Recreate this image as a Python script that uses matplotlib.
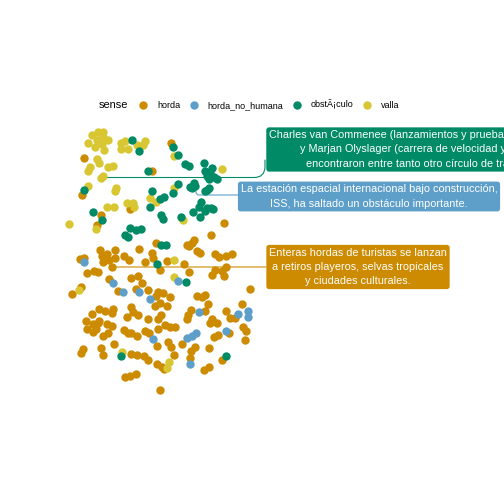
import matplotlib
matplotlib.use("Agg")
import matplotlib.pyplot as plt

plt.rcParams['font.family'] = ['Liberation Sans', 'DejaVu Sans']

# point positions (pixel units of the 504x504 picture)
horda_x = [84.3, 151.7, 81.7, 130, 171, 100.7, 97.3, 224, 210.7, 156, 186.7, 189.3, 191.7, 194.3,
           100, 115, 139.3, 107.3, 101.7, 103.3, 109.3, 115, 111.7, 80, 84.3, 124.3, 129, 152.3,
           153.3, 145, 196.7, 200, 215, 219, 225.7, 231.7, 167.3, 184.3, 160, 189.3, 226, 221.7,
           215, 212.3, 224.3, 86.7, 94.3, 97.7, 109, 131, 138.3, 142.3, 148.3, 136, 118.3, 81,
           72, 250, 158.3, 163.3, 156, 170, 196.7, 201.7, 205, 160, 166.7, 154.5, 207.7, 205,
           190.7, 188.3, 186.7, 161, 158, 165, 170, 175, 158, 212.3, 210, 216.7, 226, 230, 235,
           242.3, 229.3, 243.3, 245.7, 168.3, 171, 181.7, 214, 218, 245, 157, 209.3, 191, 195,
           174.3, 222.3, 190, 157, 162.3, 164.3, 204.3, 209, 99.3, 105, 111.7, 113.3, 92.3, 131,
           133.3, 137.7, 126.7, 148.3, 86, 93.3, 97.7, 99.3, 107.3, 112.3, 87.3, 93.3, 96, 124.3,
           128.3, 130.7, 108.3, 103.3, 145, 149.3, 137.3, 114.3, 101, 83.3, 81, 103.3, 131,
           137.3, 144, 148.3, 125, 130, 135.7, 160]
horda_y = [158.3, 171, 195, 209, 142.7, 215, 225, 222.5, 235, 242.7, 245, 246, 243.3, 240,
           249.5, 249.5, 249, 254.3, 255.7, 262.3, 260, 258.3, 266.7, 259, 257.5, 255.5, 260, 253.3,
           258.3, 262.3, 250.7, 253.3, 254.3, 256.7, 255.7, 254.3, 261, 264.3, 270, 272.3, 267.3, 270.7,
           270, 275, 275.7, 273.3, 271, 271.7, 279, 278.3, 276, 283.3, 290, 289, 291, 286.7,
           294, 289, 292.3, 293.3, 296, 297.3, 296, 297.3, 295, 303.3, 306, 306, 304, 310.7,
           310, 315, 319.3, 315, 319.3, 325, 326.7, 327.3, 329.3, 319.3, 323.3, 322.7, 311, 318.3, 318.3,
           304, 333.3, 326.7, 331, 341.7, 347.3, 344, 337, 335, 340, 346, 348.3, 350.7, 347.3,
           355, 360, 358.3, 364, 366.7, 369.3, 370, 366.7, 309.3, 310.7, 312.7, 309, 314, 307.3,
           311.7, 315, 317.3, 319.3, 321, 324, 322.7, 321, 324.3, 326, 329.3, 331.7, 329.3, 330,
           332.7, 333.3, 332.7, 336, 331, 332.7, 336, 344, 348.3, 349.3, 352.7, 355, 354,
           355, 356, 360, 376.7, 375.7, 374, 390]

no_humana_x = [84.3, 113.3, 122.7, 139, 150, 178.3, 199.3, 237.5, 247.5, 248.3, 195.7, 191.7,
               187.3, 226, 153.3, 190]
no_humana_y = [261.7, 283.3, 292.3, 292.3, 299.3, 281, 312, 313.5, 311.3, 316.5, 333.3, 335.7,
               338.3, 330.7, 339.3, 364]

obstaculo_x = [132.3, 139.3, 148.3, 84.3, 152.3, 150, 160, 164, 173.3, 177.7, 185, 189, 204.3,
               211.7, 205, 210, 206.7, 214.3, 216.7, 209.3, 178.3, 194.3, 190, 192.3, 195, 209,
               206.7, 205, 172.7, 200.7, 199.3, 206.7, 211, 213.3, 205.3, 193.3, 200, 161, 163.3,
               181, 130, 135.5, 141, 125, 128.3, 93.3, 102.3, 161, 166, 157.3, 185.5, 121, 226]
obstaculo_y = [140, 151, 171, 190, 191, 207.3, 199.3, 197.3, 147, 154.7, 163.7, 166.3, 163,
               168, 171, 173.3, 176.3, 177, 179.3, 178.7, 184, 183, 186.7, 188.3, 186, 188,
               190, 191, 192.7, 201.7, 207, 208, 208.3, 209, 211.3, 212, 217.3, 215, 219.3,
               217, 228.3, 230, 229.3, 235.3, 236.7, 212, 220, 245, 245, 264.3, 282.3, 356, 356]

valla_x = [91.7, 98.3, 102.7, 96.7, 103.3, 108.3, 88.3, 95, 101.7, 104.3, 121, 125, 121, 127.7,
           136.7, 143.3, 145, 96.7, 99.3, 90, 88.3, 108.3, 113.3, 102.7, 100.7, 88.3, 116, 115,
           126.7, 132.7, 134, 106.7, 114, 150, 174.3, 222.3, 174.3, 156, 183.3, 69.3, 95.7,
           174.3, 174.3, 79.3, 122.3, 169.3, 166.7]
valla_y = [135, 132.3, 132.3, 140, 137.3, 140, 143.3, 146.7, 144, 150, 142.7, 140.7, 149.3, 149,
           145, 145, 141, 159.3, 162.7, 166.7, 170.7, 167.3, 166, 176, 178.3, 186, 188.3, 190.7,
           202.7, 202.7, 207.3, 207.3, 206.7, 198.3, 156, 169.3, 188.3, 202, 220, 224, 229,
           260, 276.7, 290.3, 351.7, 361.7, 368.3]

senses = ['horda', 'horda_no_humana', 'obstÃ¡culo', 'valla']
colours = {'horda': '#CC8B00', 'horda_no_humana': '#5E9FC9',
           'obstÃ¡culo': '#008A66', 'valla': '#D8C733'}

# labelled sentences: anchor point, sense
label_texts = [
    "Charles van Commenee (lanzamientos y pruebas combinadas)\n"
    "y Marjan Olyslager (carrera de velocidad y vallas),\n"
    "encontraron entre tanto otro círculo de trabajo...",
    "La estación espacial internacional bajo construcción,\n"
    "ISS, ha saltado un obstáculo importante.",
    "Enteras hordas de turistas se lanzan\n"
    "a retiros playeros, selvas tropicales\n"
    "y ciudades culturales.",
]
label_sense = ['obstÃ¡culo', 'horda_no_humana', 'horda']
anchor_x = [103, 196, 111.5]
anchor_y = [177.5, 186, 267]

fig = plt.figure(figsize=(7, 7), dpi=72)
ax = fig.add_axes([0, 0, 1, 1])
ax.set_xlim(0, 504)
ax.set_ylim(504, 0)
ax.axis('off')

handles = {}
for name, xs, ys in [('horda', horda_x, horda_y), ('valla', valla_x, valla_y),
                     ('horda_no_humana', no_humana_x, no_humana_y),
                     ('obstÃ¡culo', obstaculo_x, obstaculo_y)]:
    handles[name] = ax.scatter(xs, ys, s=70, color=colours[name], linewidths=0, zorder=3)

# connector segments
conn = [
    dict(xytext=(265, 160), style="angle,angleA=90,angleB=0,rad=11"),
    dict(xytext=(240, 195), style="angle,angleA=0,angleB=90,rad=3"),
    dict(xytext=(266, 267), style="arc3"),
]
for i in range(3):
    c = colours[label_sense[i]]
    ax.annotate("", xy=(anchor_x[i], anchor_y[i]), xytext=conn[i]['xytext'],
                arrowprops=dict(arrowstyle='-', color=c, lw=1.1, shrinkA=0, shrinkB=0,
                                connectionstyle=conn[i]['style']), zorder=2)

box = dict(boxstyle="round,pad=0.25,rounding_size=0.25", linewidth=0)
fs = 10.9
ls = 1.55
ax.text(269, 149.5, label_texts[0], ha='left', va='center', multialignment='center',
        color='white', fontsize=fs, linespacing=ls,
        bbox=dict(box, facecolor=colours[label_sense[0]]), zorder=4)
ax.text(369, 196.5, label_texts[1], ha='center', va='center', multialignment='center',
        color='white', fontsize=fs, linespacing=ls,
        bbox=dict(box, facecolor=colours[label_sense[1]]), zorder=4)
ax.text(358, 267, label_texts[2], ha='center', va='center', multialignment='center',
        color='white', fontsize=fs, linespacing=ls,
        bbox=dict(box, facecolor=colours[label_sense[2]]), zorder=4)

# legend on top
fig.text(99 / 504, 1 - 105 / 504, "sense", fontsize=11, va='center', ha='left')
leg = ax.legend([handles[s] for s in senses], senses, ncol=4, frameon=False,
                loc='center left', bbox_to_anchor=(138.8 / 504, 1 - 105 / 504),
                bbox_transform=fig.transFigure, fontsize=9, handlelength=1.0,
                handletextpad=1.05, columnspacing=1.0, borderpad=0, borderaxespad=0)

fig.savefig("out.png", dpi=72)
